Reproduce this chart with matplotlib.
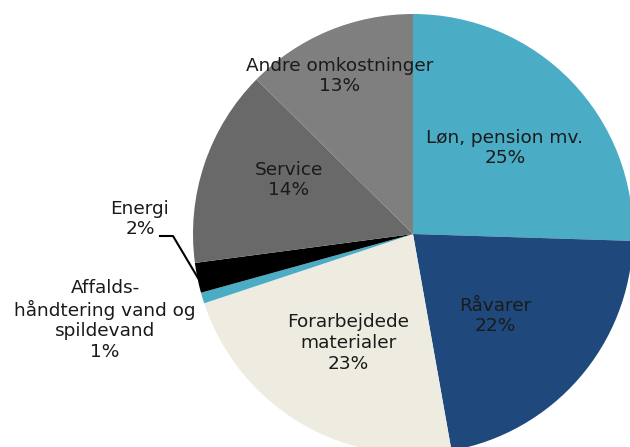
import matplotlib.pyplot as plt

# cost shares (clockwise from 12 o'clock)
categories = ["Løn, pension mv.", "Råvarer", "Forarbejdede\nmaterialer",
              "Affalds-\nhåndtering vand og\nspildevand", "Energi", "Service",
              "Andre omkostninger"]
shares = [25.5, 21.7, 22.7, 0.8, 2.2, 14.5, 12.6]
pct_labels = ["25%", "22%", "23%", "1%", "2%", "14%", "13%"]
colors = ["#4BACC6", "#1F497D", "#EEECE1", "#4BACC6", "#000000", "#696969", "#7F7F7F"]

# label anchor points in pixel coordinates of the 630x447 picture
label_px = [(505, 148), (495, 316), (348, 343), (105, 320), (140, 219), (289, 180), (340, 76)]

W, H = 630, 447
cx, cy, R = 413, 234, 220


def to_data(px, py):
    return (px - cx) / R, (cy - py) / R


fig = plt.figure(figsize=(6.3, 4.47), dpi=100)
ax = fig.add_axes([0, 0, 1, 1])
ax.pie(shares, colors=colors, startangle=90, counterclock=False,
       radius=1, center=(0, 0), wedgeprops=dict(linewidth=0))

ax.set_xlim(to_data(0, 0)[0], to_data(W, 0)[0])
ax.set_ylim(to_data(0, H)[1], to_data(0, 0)[1])
ax.set_aspect("equal")
ax.axis("off")

for name, pct, (px, py) in zip(categories, pct_labels, label_px):
    x, y = to_data(px, py)
    ax.text(x, y, name + "\n" + pct, ha="center", va="center",
            fontsize=13.3, color="#1a1a1a", linespacing=1.18)

# leader line for Energi
lx, ly = zip(to_data(160, 236), to_data(173, 236), to_data(198, 278))
ax.plot(lx, ly, color="black", linewidth=1.5)

fig.savefig("out.png", dpi=100)
